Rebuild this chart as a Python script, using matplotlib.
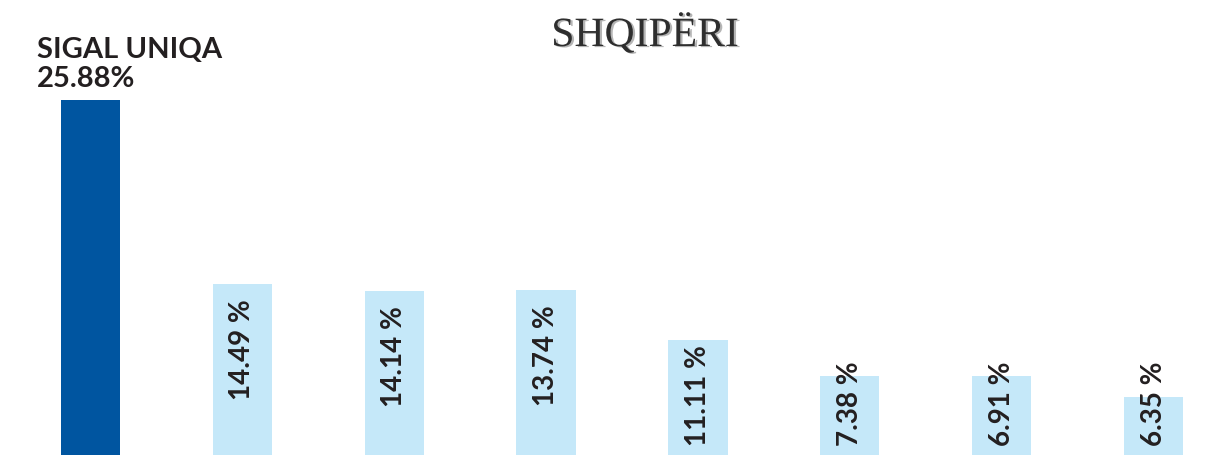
import matplotlib
matplotlib.use("Agg")
import matplotlib.pyplot as plt
from matplotlib import patheffects

# data
companies = ["SIGAL UNIQA", "", "", "", "", "", "", ""]
shares = [25.88, 14.49, 14.14, 13.74, 11.11, 7.38, 6.91, 6.35]
# bar heights as drawn in the picture (not proportional to the shares)
bar_heights = [25.88, 12.47, 11.96, 12.03, 8.38, 5.76, 5.76, 4.23]
title = "SHQIPËRI"

dark_blue = "#0055A0"
light_blue = "#C5E8F9"
text_col = "#231F20"

fig = plt.figure(figsize=(12.24, 4.55), dpi=100)
ax = fig.add_axes([0, 0, 1, 1])

x = list(range(len(shares)))
colors = [dark_blue] + [light_blue] * (len(shares) - 1)
ax.bar(x, bar_heights, width=0.39, color=colors)

ax.set_xlim(-0.596, 7.464)
ax.set_ylim(0, 33.17)
ax.axis("off")

# rotated value labels on the light bars
for i in range(1, len(shares)):
    lbl = f"{shares[i]:.2f} %"
    if bar_heights[i] > 10:
        ax.annotate(lbl, (x[i], bar_heights[i]), xytext=(0, -11), textcoords="offset points",
                    rotation=90, ha="center", va="top", fontsize=20, fontweight="bold",
                    family="Lato", color=text_col)
    else:
        ax.annotate(lbl, (x[i], 0), xytext=(0, 6.5), textcoords="offset points",
                    rotation=90, ha="center", va="bottom", fontsize=20, fontweight="bold",
                    family="Lato", color=text_col)

# leader label above the first bar
fig.text(37 / 1224, 1 - 58 / 455, companies[0], ha="left", va="baseline",
         fontsize=21, fontweight="bold", family="Lato", color=text_col)
fig.text(37 / 1224, 1 - 87 / 455, f"{shares[0]:.2f}%", ha="left", va="baseline",
         fontsize=21, fontweight="bold", family="Lato", color=text_col)

# title
fig.text(645 / 1224, 1 - 46 / 455, title, ha="center", va="baseline",
         fontsize=30, family="Liberation Serif", color="#2e2e2e",
         path_effects=[patheffects.withSimplePatchShadow(offset=(1.6, -0.8),
                                                         shadow_rgbFace="#b5b5b5", alpha=1)])

fig.savefig("out.png", dpi=100)
